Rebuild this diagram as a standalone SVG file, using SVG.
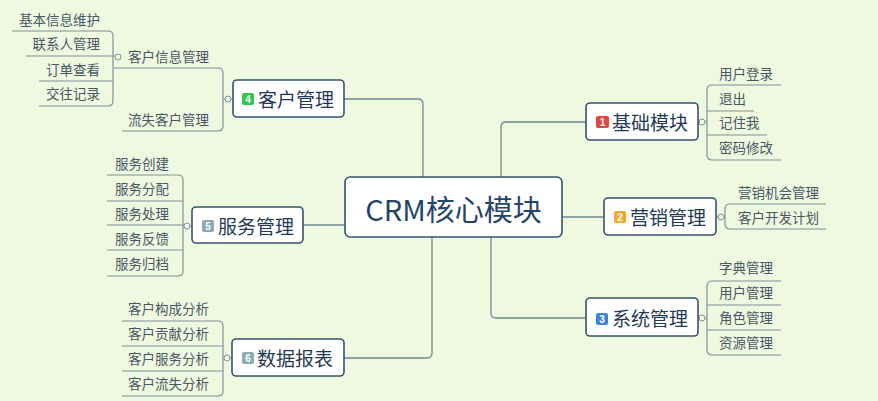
<svg xmlns="http://www.w3.org/2000/svg" width="878" height="401" viewBox="0 0 878 401">
<style>
.bg{fill:#eff9df}
.ln{fill:none;stroke:#7d919b;stroke-width:1.2}
.mn{fill:none;stroke:#6f8793;stroke-width:1.3}
.cc{fill:#eff9df;stroke:#7d919b;stroke-width:1}
.box{fill:#ffffff;stroke:#34536e;stroke-width:1.6}
.t{font-family:"Noto Sans CJK SC","Noto Sans",sans-serif;dominant-baseline:central}
.leaf{font-size:13.5px;fill:#465866}
.node{font-size:19px;fill:#1f3a58}
.center{font-size:29px;fill:#23456a}
.badge{font-family:"Liberation Sans",sans-serif;font-size:10px;font-weight:bold;fill:#ffffff;text-anchor:middle;dominant-baseline:central}
</style>
<rect class="bg" x="0" y="0" width="878" height="401"/>
<g id="connectors">
<path class="mn" d="M423,177 V104 Q423,99 418,99 H344"/>
<path class="mn" d="M501,177 V127 Q501,122 506,122 H586"/>
<path class="mn" d="M562,217 H604"/>
<path class="mn" d="M491,237 V313 Q491,318 496,318 H586"/>
<path class="mn" d="M345,225 H303"/>
<path class="mn" d="M432,237 V353 Q432,358 427,358 H344"/>
<path class="ln" d="M233,99 H231 M225,99 H223"/>
<path class="ln" d="M114,68 H218 Q223,68 223,73 V126 Q223,131 218,131 H122"/>
<circle class="cc" cx="228" cy="99" r="3"/>
<path class="ln" d="M12,31 H108 Q113,31 113,36 V101 Q113,106 108,106 H39"/>
<path class="ln" d="M26,56 H113 M113,56 H115"/>
<path class="ln" d="M39,81 H113"/>
<circle class="cc" cx="118" cy="57" r="3"/>
<path class="ln" d="M698,122 H699 M705,122 H707"/>
<path class="ln" d="M781,85 H712 Q707,85 707,90 V155 Q707,160 712,160 H781"/>
<path class="ln" d="M707,111 H754 M707,135 H767"/>
<circle class="cc" cx="702" cy="122" r="3"/>
<path class="ln" d="M716,217 H718 M724,217 H725"/>
<path class="ln" d="M826,204 H730 Q725,204 725,209 V224 Q725,229 730,229 H826"/>
<circle class="cc" cx="721" cy="217" r="3"/>
<path class="ln" d="M698,318 H699 M705,318 H707"/>
<path class="ln" d="M781,281 H712 Q707,281 707,286 V350 Q707,355 712,355 H781"/>
<path class="ln" d="M707,305 H781 M707,330 H781"/>
<circle class="cc" cx="702" cy="318" r="3"/>
<path class="ln" d="M192,226 H190 M184,226 H183"/>
<path class="ln" d="M107,175 H178 Q183,175 183,180 V271 Q183,276 178,276 H107"/>
<path class="ln" d="M107,201 H183 M107,225 H183 M107,250 H183"/>
<circle class="cc" cx="187" cy="226" r="3"/>
<path class="ln" d="M232,358 H230 M224,358 H223"/>
<path class="ln" d="M122,321 H218 Q223,321 223,326 V391 Q223,396 218,396 H122"/>
<path class="ln" d="M122,346 H223 M122,371 H223"/>
<circle class="cc" cx="227" cy="358" r="3"/>
</g>
<g id="center">
<rect class="box" x="345" y="177" width="217" height="60" rx="5"/>
<text class="t center" x="453.5" y="208" text-anchor="middle">CRM核心模块</text>
</g>
<g id="node-kehu">
<rect class="box" x="233" y="80" width="111" height="37" rx="4"/>
<rect x="242" y="93" width="12" height="12" rx="2" fill="#2ec94b"/>
<text class="badge" x="248" y="99.5">4</text>
<text class="t node" x="258" y="98.5">客户管理</text>
</g>
<g id="node-jichu">
<rect class="box" x="586" y="103" width="112" height="37" rx="4"/>
<rect x="596" y="116" width="13" height="12" rx="2" fill="#e5473f"/>
<text class="badge" x="602.5" y="122.5">1</text>
<text class="t node" x="612" y="121.5">基础模块</text>
</g>
<g id="node-yingxiao">
<rect class="box" x="604" y="198" width="112" height="37" rx="4"/>
<rect x="614" y="211" width="12" height="12" rx="2" fill="#f6a925"/>
<text class="badge" x="620" y="217.5">2</text>
<text class="t node" x="630" y="216.5">营销管理</text>
</g>
<g id="node-xitong">
<rect class="box" x="586" y="298" width="112" height="38" rx="4"/>
<rect x="596" y="313" width="12" height="12" rx="2" fill="#3e82e4"/>
<text class="badge" x="602" y="319.5">3</text>
<text class="t node" x="612" y="317.5">系统管理</text>
</g>
<g id="node-fuwu">
<rect class="box" x="192" y="207" width="111" height="36" rx="4"/>
<rect x="202" y="220" width="12" height="12" rx="2" fill="#8caab3"/>
<text class="badge" x="208" y="226.5">5</text>
<text class="t node" x="218" y="225.5">服务管理</text>
</g>
<g id="node-shuju">
<rect class="box" x="232" y="339" width="112" height="37" rx="4"/>
<rect x="242" y="352" width="12" height="12" rx="2" fill="#8caab3"/>
<text class="badge" x="248" y="358.5">6</text>
<text class="t node" x="257" y="357.5">数据报表</text>
</g>
<g id="leaves-kehu">
<text class="t leaf" x="128" y="55.5">客户信息管理</text>
<text class="t leaf" x="128" y="118.5">流失客户管理</text>
<text class="t leaf" x="100" y="18.5" text-anchor="end">基本信息维护</text>
<text class="t leaf" x="100" y="43" text-anchor="end">联系人管理</text>
<text class="t leaf" x="100" y="68.5" text-anchor="end">订单查看</text>
<text class="t leaf" x="100" y="93" text-anchor="end">交往记录</text>
</g>
<g id="leaves-jichu">
<text class="t leaf" x="719" y="73">用户登录</text>
<text class="t leaf" x="719" y="98">退出</text>
<text class="t leaf" x="719" y="122">记住我</text>
<text class="t leaf" x="719" y="147">密码修改</text>
</g>
<g id="leaves-yingxiao">
<text class="t leaf" x="738" y="192">营销机会管理</text>
<text class="t leaf" x="738" y="217">客户开发计划</text>
</g>
<g id="leaves-xitong">
<text class="t leaf" x="719" y="267">字典管理</text>
<text class="t leaf" x="719" y="292">用户管理</text>
<text class="t leaf" x="719" y="317">角色管理</text>
<text class="t leaf" x="719" y="342">资源管理</text>
</g>
<g id="leaves-fuwu">
<text class="t leaf" x="115" y="163">服务创建</text>
<text class="t leaf" x="115" y="188">服务分配</text>
<text class="t leaf" x="115" y="213">服务处理</text>
<text class="t leaf" x="115" y="238">服务反馈</text>
<text class="t leaf" x="115" y="263">服务归档</text>
</g>
<g id="leaves-shuju">
<text class="t leaf" x="128" y="308">客户构成分析</text>
<text class="t leaf" x="128" y="333">客户贡献分析</text>
<text class="t leaf" x="128" y="358">客户服务分析</text>
<text class="t leaf" x="128" y="383">客户流失分析</text>
</g>
</svg>
